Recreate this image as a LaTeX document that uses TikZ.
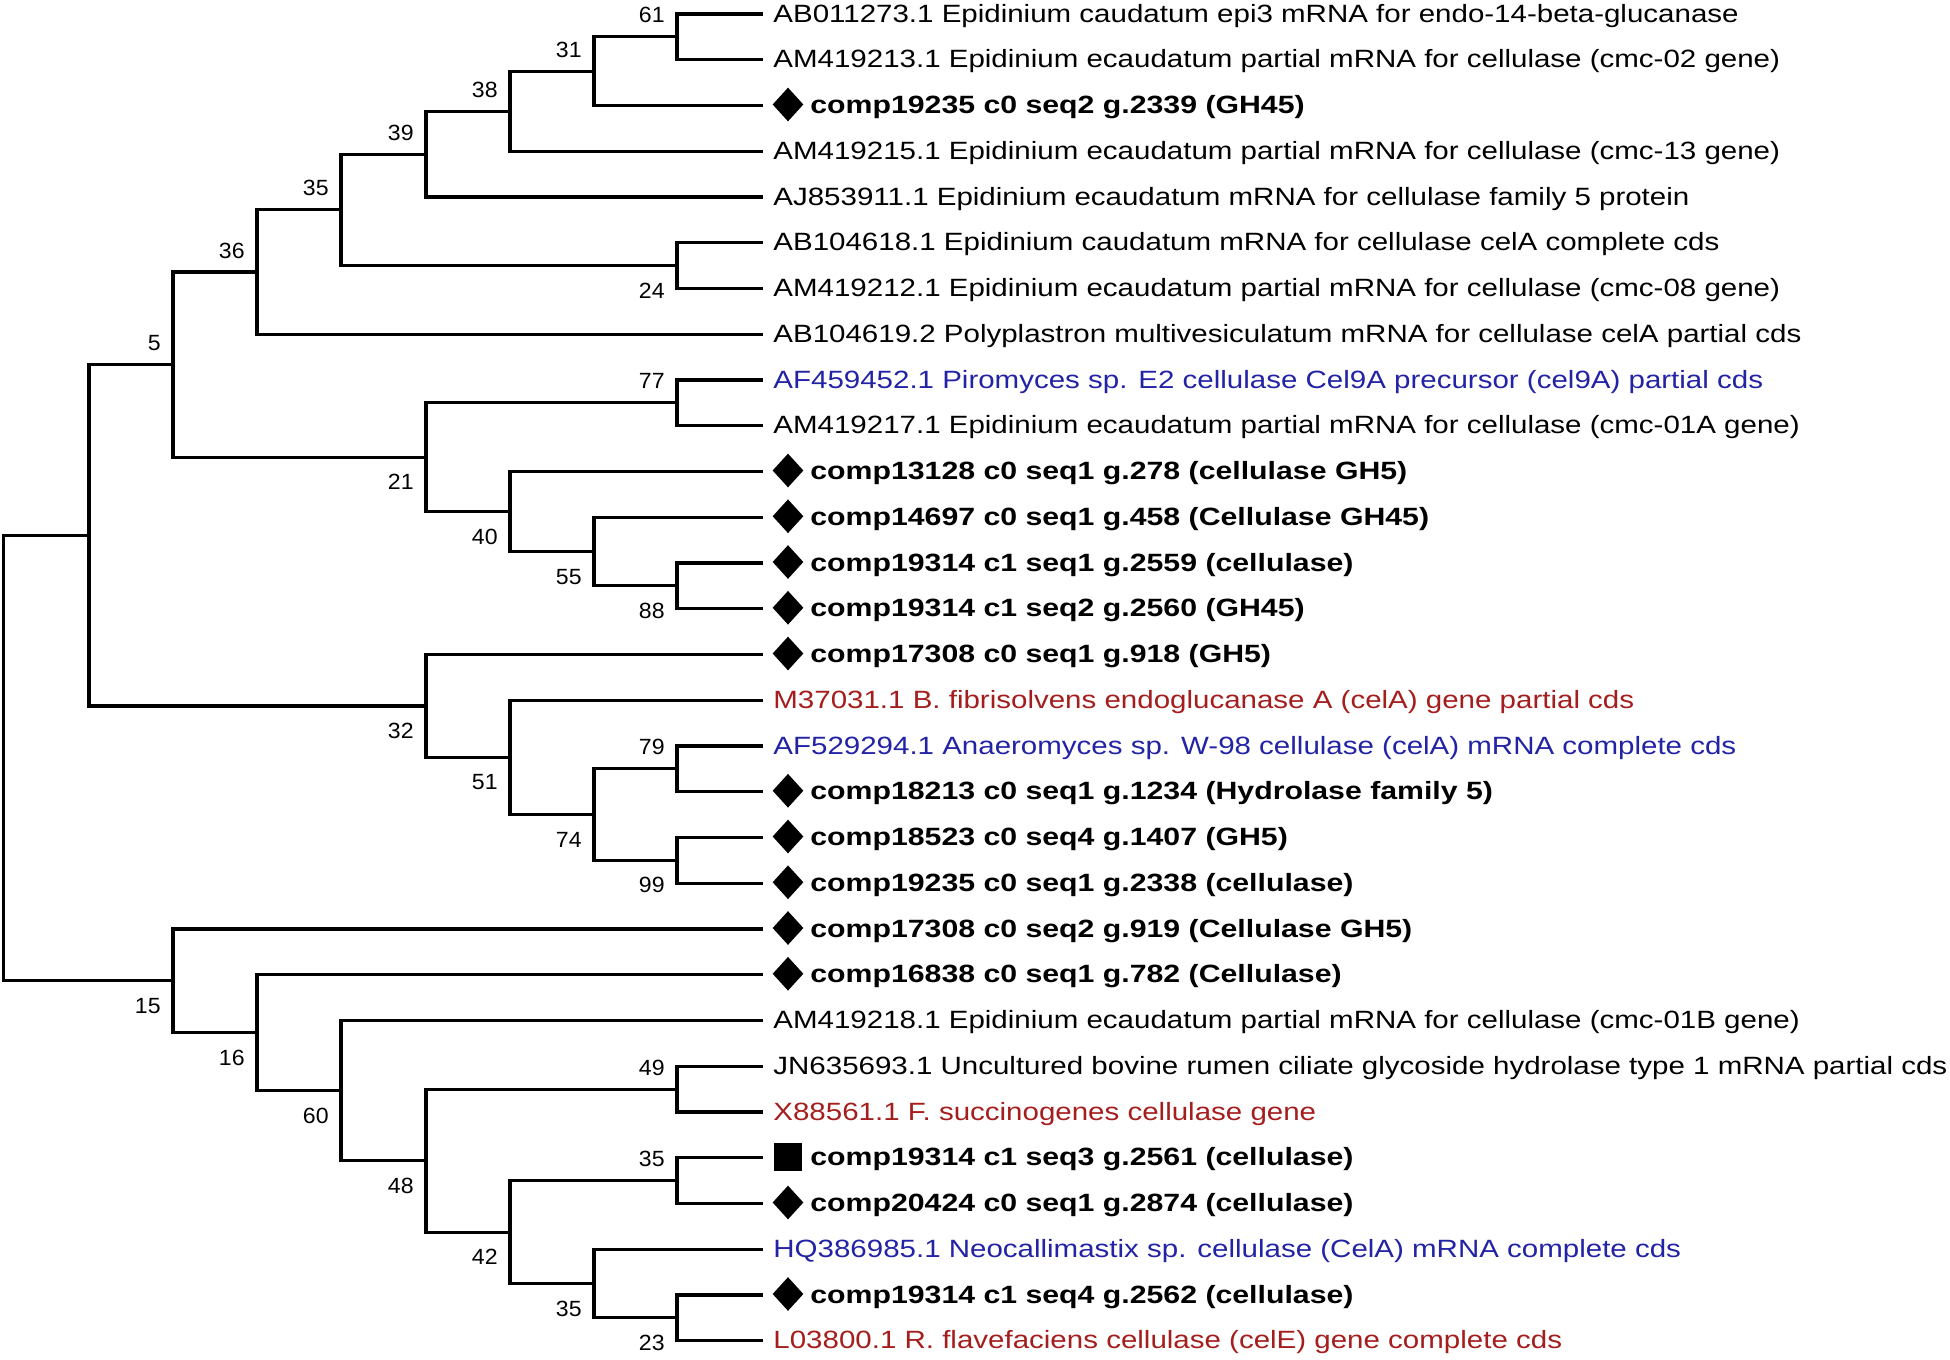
\documentclass[tikz,border=0pt]{standalone}
\usepackage{fontspec}
\usetikzlibrary{shapes.geometric,calc}
\newfontfamily\leaffont{Liberation Sans}[FakeStretch=1.18]
\newfontfamily\compfont{Liberation Sans}[FakeStretch=1.21]
\newfontfamily\bootfont{Liberation Sans}[FakeStretch=1.05]
\definecolor{accblue}{RGB}{35,35,165}
\definecolor{accred}{RGB}{165,30,30}
\begin{document}
\begin{tikzpicture}[x=0.5pt,y=-0.5pt,
  branch/.style={line width=1.6pt, line join=miter},
  plainlbl/.style={anchor=base west, inner sep=0pt, font=\fontsize{12.5pt}{15pt}\leaffont},
  bluelbl/.style={plainlbl, text=accblue},
  redlbl/.style={plainlbl, text=accred},
  complbl/.style={anchor=base west, inner sep=0pt, font=\fontsize{12.5pt}{15pt}\compfont\bfseries},
  dmark/.style={diamond, fill=black, draw=none, inner sep=0pt, minimum width=15.5pt, minimum height=17pt},
  smark/.style={rectangle, fill=black, draw=none, inner sep=0pt, minimum size=14pt},
  boot/.style={anchor=east, inner sep=0pt, font=\fontsize{11pt}{13pt}\bootfont}
]
\useasboundingbox (0,0) rectangle (1950,1360);

% leaf ends
\coordinate (l1) at (763,14);
\coordinate (l2) at (763,59.75);
\coordinate (l3) at (763,105.5);
\coordinate (l4) at (763,151.25);
\coordinate (l5) at (763,197);
\coordinate (l6) at (763,242.75);
\coordinate (l7) at (763,288.5);
\coordinate (l8) at (763,334.25);
\coordinate (l9) at (763,380);
\coordinate (l10) at (763,425.75);
\coordinate (l11) at (763,471.5);
\coordinate (l12) at (763,517.25);
\coordinate (l13) at (763,563);
\coordinate (l14) at (763,608.75);
\coordinate (l15) at (763,654.5);
\coordinate (l16) at (763,700.25);
\coordinate (l17) at (763,746);
\coordinate (l18) at (763,791.75);
\coordinate (l19) at (763,837.5);
\coordinate (l20) at (763,883.25);
\coordinate (l21) at (763,929);
\coordinate (l22) at (763,974.75);
\coordinate (l23) at (763,1020.5);
\coordinate (l24) at (763,1066.25);
\coordinate (l25) at (763,1112);
\coordinate (l26) at (763,1157.75);
\coordinate (l27) at (763,1203.5);
\coordinate (l28) at (763,1249.25);
\coordinate (l29) at (763,1295);
\coordinate (l30) at (763,1340.75);

% internal nodes
\coordinate (n61) at (677,36.88);
\coordinate (n31) at (594,71.19);
\coordinate (n38) at (510,111.22);
\coordinate (n39) at (426,154.11);
\coordinate (n24) at (677,265.63);
\coordinate (n35) at (341,209.87);
\coordinate (n36) at (257,272.06);
\coordinate (n77) at (677,402.88);
\coordinate (n88) at (677,585.88);
\coordinate (n55) at (594,551.56);
\coordinate (n40) at (510,511.53);
\coordinate (n21) at (426,457.2);
\coordinate (n5) at (173,364.63);
\coordinate (n79) at (677,768.88);
\coordinate (n99) at (677,860.38);
\coordinate (n74) at (594,814.63);
\coordinate (n51) at (510,757.44);
\coordinate (n32) at (426,705.97);
\coordinate (nA) at (89,535.3);
\coordinate (n49) at (677,1089.13);
\coordinate (n35a) at (677,1180.63);
\coordinate (n23) at (677,1317.88);
\coordinate (n35b) at (594,1283.56);
\coordinate (n42) at (510,1232.09);
\coordinate (n48) at (426,1160.61);
\coordinate (n60) at (341,1090.55);
\coordinate (n16) at (257,1032.65);
\coordinate (n15) at (173,980.83);
\coordinate (root) at (3.5,758.06);

% branches
\draw[branch] (l1) -| (n61) |- (l2);
\draw[branch] (n61) -| (n31) |- (l3);
\draw[branch] (n31) -| (n38) |- (l4);
\draw[branch] (n38) -| (n39) |- (l5);
\draw[branch] (l6) -| (n24) |- (l7);
\draw[branch] (n39) -| (n35) |- (n24);
\draw[branch] (n35) -| (n36) |- (l8);
\draw[branch] (l9) -| (n77) |- (l10);
\draw[branch] (l13) -| (n88) |- (l14);
\draw[branch] (l12) -| (n55) |- (n88);
\draw[branch] (l11) -| (n40) |- (n55);
\draw[branch] (n77) -| (n21) |- (n40);
\draw[branch] (n36) -| (n5) |- (n21);
\draw[branch] (l17) -| (n79) |- (l18);
\draw[branch] (l19) -| (n99) |- (l20);
\draw[branch] (n79) -| (n74) |- (n99);
\draw[branch] (l16) -| (n51) |- (n74);
\draw[branch] (l15) -| (n32) |- (n51);
\draw[branch] (n5) -| (nA) |- (n32);
\draw[branch] (l24) -| (n49) |- (l25);
\draw[branch] (l26) -| (n35a) |- (l27);
\draw[branch] (l29) -| (n23) |- (l30);
\draw[branch] (l28) -| (n35b) |- (n23);
\draw[branch] (n35a) -| (n42) |- (n35b);
\draw[branch] (n49) -| (n48) |- (n42);
\draw[branch] (l23) -| (n60) |- (n48);
\draw[branch] (l22) -| (n16) |- (n60);
\draw[branch] (l21) -| (n15) |- (n16);
\draw[branch] (nA) -| (root) |- (n15);

% bootstrap values
\node[boot] (b61) at ($(n61)+(-12,-21.5)$) {61};
\node[boot] (b31) at ($(n31)+(-12,-21.5)$) {31};
\node[boot] (b38) at ($(n38)+(-12,-21.5)$) {38};
\node[boot] (b39) at ($(n39)+(-12,-21.5)$) {39};
\node[boot] (b35) at ($(n35)+(-12,-21.5)$) {35};
\node[boot] (b24) at ($(n24)+(-12,25)$) {24};
\node[boot] (b36) at ($(n36)+(-12,-21.5)$) {36};
\node[boot] (b5) at ($(n5)+(-12,-21.5)$) {5};
\node[boot] (b77) at ($(n77)+(-12,-21.5)$) {77};
\node[boot] (b21) at ($(n21)+(-12,25)$) {21};
\node[boot] (b40) at ($(n40)+(-12,25)$) {40};
\node[boot] (b55) at ($(n55)+(-12,25)$) {55};
\node[boot] (b88) at ($(n88)+(-12,25)$) {88};
\node[boot] (b32) at ($(n32)+(-12,25)$) {32};
\node[boot] (b51) at ($(n51)+(-12,25)$) {51};
\node[boot] (b79) at ($(n79)+(-12,-21.5)$) {79};
\node[boot] (b74) at ($(n74)+(-12,25)$) {74};
\node[boot] (b99) at ($(n99)+(-12,25)$) {99};
\node[boot] (b15) at ($(n15)+(-12,25)$) {15};
\node[boot] (b16) at ($(n16)+(-12,25)$) {16};
\node[boot] (b60) at ($(n60)+(-12,25)$) {60};
\node[boot] (b48) at ($(n48)+(-12,25)$) {48};
\node[boot] (b49) at ($(n49)+(-12,-21.5)$) {49};
\node[boot] (b42) at ($(n42)+(-12,25)$) {42};
\node[boot] (b35a) at ($(n35a)+(-12,-21.5)$) {35};
\node[boot] (b35b) at ($(n35b)+(-12,25)$) {35};
\node[boot] (b23) at ($(n23)+(-12,25)$) {23};

% leaf labels
\node[plainlbl] (t1) at ($(l1)+(10,8)$) {AB011273.1 Epidinium caudatum epi3 mRNA for endo-14-beta-glucanase};
\node[plainlbl] (t2) at ($(l2)+(10,8)$) {AM419213.1 Epidinium ecaudatum partial mRNA for cellulase (cmc-02 gene)};
\node[dmark] (m3) at ($(l3)+(25,-1)$) {};
\node[complbl] (t3) at ($(l3)+(47,8)$) {comp19235 c0 seq2 g.2339 (GH45)};
\node[plainlbl] (t4) at ($(l4)+(10,8)$) {AM419215.1 Epidinium ecaudatum partial mRNA for cellulase (cmc-13 gene)};
\node[plainlbl] (t5) at ($(l5)+(10,8)$) {AJ853911.1 Epidinium ecaudatum mRNA for cellulase family 5 protein};
\node[plainlbl] (t6) at ($(l6)+(10,8)$) {AB104618.1 Epidinium caudatum mRNA for cellulase celA complete cds};
\node[plainlbl] (t7) at ($(l7)+(10,8)$) {AM419212.1 Epidinium ecaudatum partial mRNA for cellulase (cmc-08 gene)};
\node[plainlbl] (t8) at ($(l8)+(10,8)$) {AB104619.2 Polyplastron multivesiculatum mRNA for cellulase celA partial cds};
\node[bluelbl] (t9) at ($(l9)+(10,8)$) {AF459452.1 Piromyces sp. E2 cellulase Cel9A precursor (cel9A) partial cds};
\node[plainlbl] (t10) at ($(l10)+(10,8)$) {AM419217.1 Epidinium ecaudatum partial mRNA for cellulase (cmc-01A gene)};
\node[dmark] (m11) at ($(l11)+(25,-1)$) {};
\node[complbl] (t11) at ($(l11)+(47,8)$) {comp13128 c0 seq1 g.278 (cellulase GH5)};
\node[dmark] (m12) at ($(l12)+(25,-1)$) {};
\node[complbl] (t12) at ($(l12)+(47,8)$) {comp14697 c0 seq1 g.458 (Cellulase GH45)};
\node[dmark] (m13) at ($(l13)+(25,-1)$) {};
\node[complbl] (t13) at ($(l13)+(47,8)$) {comp19314 c1 seq1 g.2559 (cellulase)};
\node[dmark] (m14) at ($(l14)+(25,-1)$) {};
\node[complbl] (t14) at ($(l14)+(47,8)$) {comp19314 c1 seq2 g.2560 (GH45)};
\node[dmark] (m15) at ($(l15)+(25,-1)$) {};
\node[complbl] (t15) at ($(l15)+(47,8)$) {comp17308 c0 seq1 g.918 (GH5)};
\node[redlbl] (t16) at ($(l16)+(10,8)$) {M37031.1 B. fibrisolvens endoglucanase A (celA) gene partial cds};
\node[bluelbl] (t17) at ($(l17)+(10,8)$) {AF529294.1 Anaeromyces sp. W-98 cellulase (celA) mRNA complete cds};
\node[dmark] (m18) at ($(l18)+(25,-1)$) {};
\node[complbl] (t18) at ($(l18)+(47,8)$) {comp18213 c0 seq1 g.1234 (Hydrolase family 5)};
\node[dmark] (m19) at ($(l19)+(25,-1)$) {};
\node[complbl] (t19) at ($(l19)+(47,8)$) {comp18523 c0 seq4 g.1407 (GH5)};
\node[dmark] (m20) at ($(l20)+(25,-1)$) {};
\node[complbl] (t20) at ($(l20)+(47,8)$) {comp19235 c0 seq1 g.2338 (cellulase)};
\node[dmark] (m21) at ($(l21)+(25,-1)$) {};
\node[complbl] (t21) at ($(l21)+(47,8)$) {comp17308 c0 seq2 g.919 (Cellulase GH5)};
\node[dmark] (m22) at ($(l22)+(25,-1)$) {};
\node[complbl] (t22) at ($(l22)+(47,8)$) {comp16838 c0 seq1 g.782 (Cellulase)};
\node[plainlbl] (t23) at ($(l23)+(10,8)$) {AM419218.1 Epidinium ecaudatum partial mRNA for cellulase (cmc-01B gene)};
\node[plainlbl] (t24) at ($(l24)+(10,8)$) {JN635693.1 Uncultured bovine rumen ciliate glycoside hydrolase type 1 mRNA partial cds};
\node[redlbl] (t25) at ($(l25)+(10,8)$) {X88561.1 F. succinogenes cellulase gene};
\node[smark] (m26) at ($(l26)+(24.5,-1)$) {};
\node[complbl] (t26) at ($(l26)+(47,8)$) {comp19314 c1 seq3 g.2561 (cellulase)};
\node[dmark] (m27) at ($(l27)+(25,-1)$) {};
\node[complbl] (t27) at ($(l27)+(47,8)$) {comp20424 c0 seq1 g.2874 (cellulase)};
\node[bluelbl] (t28) at ($(l28)+(10,8)$) {HQ386985.1 Neocallimastix sp. cellulase (CelA) mRNA complete cds};
\node[dmark] (m29) at ($(l29)+(25,-1)$) {};
\node[complbl] (t29) at ($(l29)+(47,8)$) {comp19314 c1 seq4 g.2562 (cellulase)};
\node[redlbl] (t30) at ($(l30)+(10,8)$) {L03800.1 R. flavefaciens cellulase (celE) gene complete cds};
\end{tikzpicture}
\end{document}
